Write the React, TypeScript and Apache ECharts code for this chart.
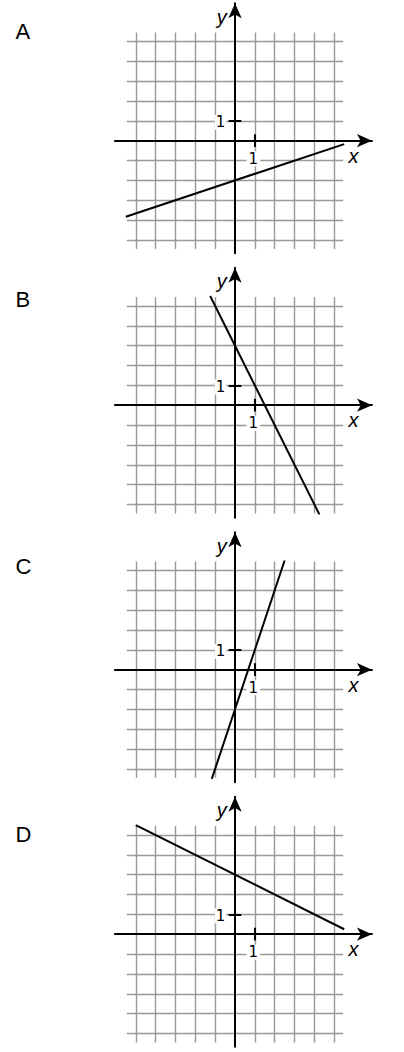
import { useEffect, useRef } from 'react'
import * as echarts from 'echarts'

const panelLetters = ['A', 'B', 'C', 'D']

// end points of each panel's line
const lineA = [[-5.5, -3.83], [5.5, -0.17]]
const lineB = [[-1.25, 5.5], [4.25, -5.5]]
const lineC = [[-1.17, -5.5], [2.5, 5.5]]
const lineD = [[-5, 5.5], [5.5, 0.25]]
const panelLines = [lineA, lineB, lineC, lineD]

const gridValues = [-5, -4, -3, -2, -1, 1, 2, 3, 4, 5]
const unitTick = 1
const axisNames = ['x', 'y']

const gridReach = 5.45
const tickHalf = 0.32

const unit = 19.85
const originX = 235
const firstAxisY = 140.7
const panelStep = 264.5
const xMin = -6.05
const xMax = 6.9
const yMin = -5.67
const yMax = 6.92

const sans = '"Liberation Sans", Arial, sans-serif'
const digitFont = '"DejaVu Sans", sans-serif'

function buildOption() {
  const grids = panelLetters.map((_, i) => {
    const axisY = firstAxisY + panelStep * i
    return {
      left: originX + xMin * unit,
      width: (xMax - xMin) * unit,
      top: axisY - yMax * unit,
      height: (yMax - yMin) * unit,
    }
  })

  const axisLine = {
    onZero: true,
    lineStyle: { color: '#000', width: 2 },
    symbol: ['none', 'arrow'],
    symbolSize: [10, 15],
  }

  const xAxes = panelLetters.map((_, i) => ({
    type: 'value',
    gridIndex: i,
    min: xMin,
    max: xMax,
    z: 3,
    axisLine,
    axisTick: { show: false },
    axisLabel: { show: false },
    splitLine: { show: false },
  }))

  const yAxes = panelLetters.map((_, i) => ({
    type: 'value',
    gridIndex: i,
    min: yMin,
    max: yMax,
    z: 3,
    axisLine,
    axisTick: { show: false },
    axisLabel: { show: false },
    splitLine: { show: false },
  }))

  const textBase = { color: '#000', opacity: 1, textBorderWidth: 0, textShadowBlur: 0 }

  const series: any[] = []
  panelLetters.forEach((_, i) => {
    series.push({
      type: 'lines',
      coordinateSystem: 'cartesian2d',
      xAxisIndex: i,
      yAxisIndex: i,
      silent: true,
      z: 1,
      lineStyle: { color: '#999', width: 1.4, opacity: 1 },
      data: gridValues.flatMap((v) => [
        { coords: [[v, -gridReach], [v, gridReach]] },
        { coords: [[-gridReach, v], [gridReach, v]] },
      ]),
    })
    series.push({
      type: 'lines',
      coordinateSystem: 'cartesian2d',
      xAxisIndex: i,
      yAxisIndex: i,
      silent: true,
      z: 4,
      lineStyle: { color: '#000', width: 2, opacity: 1 },
      data: [
        { coords: [[unitTick, -tickHalf], [unitTick, tickHalf]] },
        { coords: [[-tickHalf, unitTick], [tickHalf, unitTick]] },
      ],
    })
    series.push({
      type: 'line',
      xAxisIndex: i,
      yAxisIndex: i,
      symbol: 'none',
      silent: true,
      z: 4,
      lineStyle: { color: '#000', width: 2 },
      data: panelLines[i],
    })
    series.push({
      type: 'scatter',
      xAxisIndex: i,
      yAxisIndex: i,
      symbolSize: 0,
      silent: true,
      z: 5,
      itemStyle: { opacity: 1 },
      label: { show: true, position: 'inside', ...textBase },
      data: [
        {
          value: [unitTick, 0],
          label: {
            ...textBase,
            formatter: String(unitTick),
            fontFamily: digitFont,
            fontSize: 15,
            offset: [-1.5, 18],
            backgroundColor: '#fff',
            padding: [0, 2],
          },
        },
        {
          value: [0, unitTick],
          label: {
            ...textBase,
            formatter: String(unitTick),
            fontFamily: digitFont,
            fontSize: 15,
            offset: [-14.5, 1.5],
            backgroundColor: '#fff',
            padding: [0, 1],
          },
        },
        {
          value: [5.97, -0.76],
          label: { ...textBase, formatter: axisNames[0], fontFamily: sans, fontStyle: 'italic', fontSize: 20 },
        },
        {
          value: [-0.67, 6.24],
          label: { ...textBase, formatter: axisNames[1], fontFamily: sans, fontStyle: 'italic', fontSize: 20 },
        },
      ],
    })
  })

  return {
    animation: false,
    backgroundColor: '#fff',
    grid: grids,
    xAxis: xAxes,
    yAxis: yAxes,
    graphic: panelLetters.map((letter, i) => ({
      type: 'text',
      x: 15.5,
      y: 31.3 + 267.7 * i,
      style: {
        text: letter,
        fontFamily: sans,
        fontSize: 22,
        fill: '#000',
        align: 'left',
        verticalAlign: 'middle',
      },
    })),
    series,
  }
}

export default function App() {
  const chartRef = useRef<HTMLDivElement | null>(null)

  useEffect(() => {
    if (!chartRef.current) {
      return undefined
    }
    const chart = echarts.init(chartRef.current, undefined, { renderer: 'svg' })
    chart.setOption(buildOption())
    return () => {
      chart.dispose()
    }
  }, [])

  return (
    <div
      ref={chartRef}
      style={{ position: 'absolute', left: 0, top: 0, width: 404, height: 1052 }}
    />
  )
}
